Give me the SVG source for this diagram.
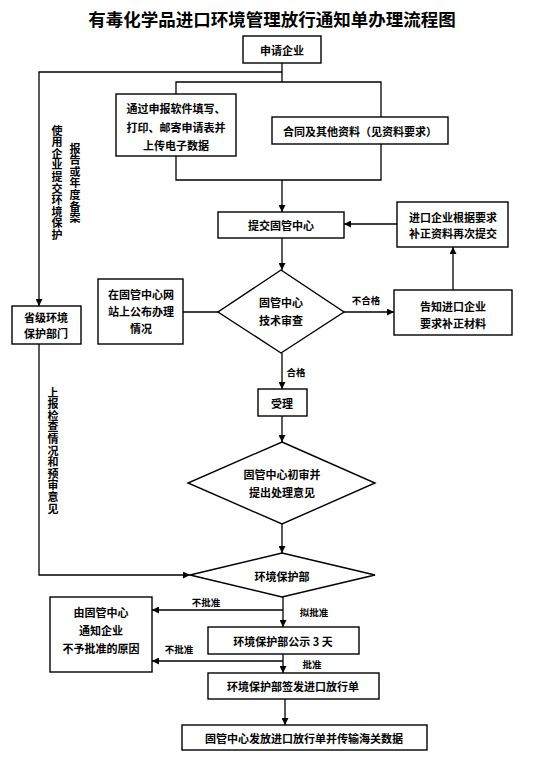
<svg xmlns="http://www.w3.org/2000/svg" width="554" height="761" viewBox="0 0 554 761">
<style>
.box{fill:#fff;stroke:#000;stroke-width:1.4}
.t{font-family:"Noto Sans CJK SC","Noto Sans CJK JP",sans-serif;font-size:11px;font-weight:bold;text-anchor:middle;dominant-baseline:central;fill:#000}
.s{font-size:9.5px}
.v{writing-mode:vertical-rl;text-anchor:start;letter-spacing:0.6px}
.c{fill:none;stroke:#000;stroke-width:1.3}
</style>
<defs>
<marker id="a" viewBox="0 0 10 10" refX="10" refY="5" markerWidth="7" markerHeight="7" markerUnits="userSpaceOnUse" orient="auto">
<path d="M0,0 L10,5 L0,10 Z" fill="#000"/>
</marker>
</defs>
<rect width="554" height="761" fill="#fff"/>
<text x="272" y="18" class="t" style="font-size:17.5px">有毒化学品进口环境管理放行通知单办理流程图</text>

<g id="connectors">
<path class="c" d="M282,63 V82"/>
<path class="c" d="M282,72 H39 V306" marker-end="url(#a)"/>
<path class="c" d="M176,94 V82 H381 V117"/>
<path class="c" d="M176,156 V180 H381 V144"/>
<path class="c" d="M282,180 V212" marker-end="url(#a)"/>
<path class="c" d="M397,224 H344" marker-end="url(#a)"/>
<path class="c" d="M282,238 V270" marker-end="url(#a)"/>
<path class="c" d="M183,312 H218"/>
<path class="c" d="M344,312 H394" marker-end="url(#a)"/>
<path class="c" d="M453,290 V247" marker-end="url(#a)"/>
<path class="c" d="M282,353 V389" marker-end="url(#a)"/>
<path class="c" d="M282,416 V442" marker-end="url(#a)"/>
<path class="c" d="M282,524 V553" marker-end="url(#a)"/>
<path class="c" d="M39,344 V575 H190" marker-end="url(#a)"/>
<path class="c" d="M283,597 V627" marker-end="url(#a)"/>
<path class="c" d="M283,610 H152" marker-end="url(#a)"/>
<path class="c" d="M283,654 V673" marker-end="url(#a)"/>
<path class="c" d="M283,661 H152" marker-end="url(#a)"/>
<path class="c" d="M285,699 V725" marker-end="url(#a)"/>
<text x="366" y="300" class="t s">不合格</text>
<text x="296" y="372" class="t s">合格</text>
<text x="206" y="602" class="t s">不批准</text>
<text x="314" y="612" class="t s">拟批准</text>
<text x="179" y="649" class="t s">不批准</text>
<text x="312" y="664" class="t s">批准</text>
<text x="57" y="125" class="t v">使用企业提交环境保护</text>
<text x="75" y="143" class="t v">报告或年度备案</text>
<text x="53" y="387" class="t v">上报检查情况和预审意见</text>
</g>

<g id="n1"><rect class="box" x="243" y="36" width="78" height="27"/><text x="282" y="50" class="t">申请企业</text></g>
<g id="n2"><rect class="box" x="116" y="94" width="120" height="62"/>
<text x="176" y="108" class="t">通过申报软件填写、</text><text x="176" y="127" class="t">打印、邮寄申请表并</text><text x="176" y="145" class="t">上传电子数据</text></g>
<g id="n3"><rect class="box" x="272" y="117" width="176" height="27"/><text x="360" y="131" class="t">合同及其他资料（见资料要求）</text></g>
<g id="n4"><rect class="box" x="218" y="212" width="126" height="26"/><text x="281" y="225" class="t">提交固管中心</text></g>
<g id="n5"><rect class="box" x="397" y="202" width="111" height="45"/>
<text x="453" y="217" class="t">进口企业根据要求</text><text x="453" y="233" class="t">补正资料再次提交</text></g>
<g id="n6"><rect class="box" x="98" y="279" width="85" height="65"/>
<text x="141" y="294" class="t">在固管中心网</text><text x="141" y="311" class="t">站上公布办理</text><text x="141" y="328" class="t">情况</text></g>
<g id="n7"><path class="box" d="M281,270 L344,312 L281,353 L218,312 Z"/>
<text x="281" y="302" class="t">固管中心</text><text x="281" y="320" class="t">技术审查</text></g>
<g id="n8"><rect class="box" x="394" y="290" width="118" height="45"/>
<text x="453" y="306" class="t">告知进口企业</text><text x="453" y="323" class="t">要求补正材料</text></g>
<g id="n9"><rect class="box" x="12" y="306" width="69" height="38"/>
<text x="46" y="317" class="t">省级环境</text><text x="46" y="333" class="t">保护部门</text></g>
<g id="n10"><rect class="box" x="258" y="389" width="49" height="27"/><text x="282" y="403" class="t">受理</text></g>
<g id="n11"><path class="box" d="M282,442 L375,483 L282,524 L188,483 Z"/>
<text x="282" y="474" class="t">固管中心初审并</text><text x="282" y="492" class="t">提出处理意见</text></g>
<g id="n12"><path class="box" d="M282,553 L375,575 L282,597 L190,575 Z"/><text x="282" y="576" class="t">环境保护部</text></g>
<g id="n13"><rect class="box" x="50" y="597" width="102" height="75"/>
<text x="101" y="612" class="t">由固管中心</text><text x="101" y="630" class="t">通知企业</text><text x="101" y="648" class="t">不予批准的原因</text></g>
<g id="n14"><rect class="box" x="208" y="627" width="151" height="27"/><text x="283" y="641" class="t">环境保护部公示 3 天</text></g>
<g id="n15"><rect class="box" x="208" y="673" width="171" height="26"/><text x="293" y="686" class="t">环境保护部签发进口放行单</text></g>
<g id="n16"><rect class="box" x="182" y="725" width="245" height="25"/><text x="304" y="738" class="t">固管中心发放进口放行单并传输海关数据</text></g>
</svg>
